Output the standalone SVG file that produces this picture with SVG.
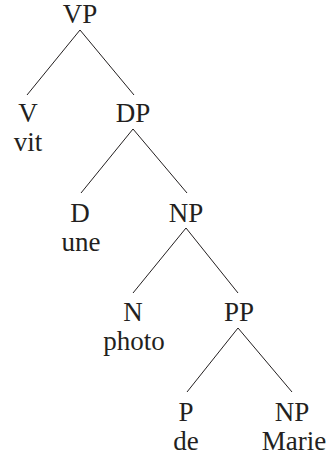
<svg xmlns="http://www.w3.org/2000/svg" width="327" height="456" viewBox="0 0 327 456">
<style>
.e line{stroke:#231f20;stroke-width:1}
text{font-family:"Liberation Serif","Times New Roman",serif;font-size:27px;fill:#231f20;text-anchor:middle}
</style>
<rect width="327" height="456" fill="#fff"/>
<g class="e" id="connectors">
<line x1="80" y1="30" x2="27" y2="95"/>
<line x1="80" y1="30" x2="134" y2="95"/>
<line x1="133" y1="129" x2="81" y2="193"/>
<line x1="133" y1="129" x2="187" y2="193"/>
<line x1="186" y1="228" x2="133" y2="293"/>
<line x1="186" y1="228" x2="238" y2="293"/>
<line x1="238" y1="328" x2="187" y2="392"/>
<line x1="238" y1="328" x2="292" y2="392"/>
</g>
<g id="VP"><text x="80" y="23">VP</text></g>
<g id="V"><text x="28" y="122">V</text><text x="28" y="151">vit</text></g>
<g id="DP"><text x="133" y="122">DP</text></g>
<g id="D"><text x="80" y="222">D</text><text x="81" y="251">une</text></g>
<g id="NP1"><text x="186" y="222">NP</text></g>
<g id="N"><text x="133" y="321">N</text><text x="134" y="350">photo</text></g>
<g id="PP"><text x="239" y="321">PP</text></g>
<g id="P"><text x="186" y="421">P</text><text x="186" y="450">de</text></g>
<g id="NP2"><text x="292" y="421">NP</text><text x="294" y="450">Marie</text></g>
</svg>
